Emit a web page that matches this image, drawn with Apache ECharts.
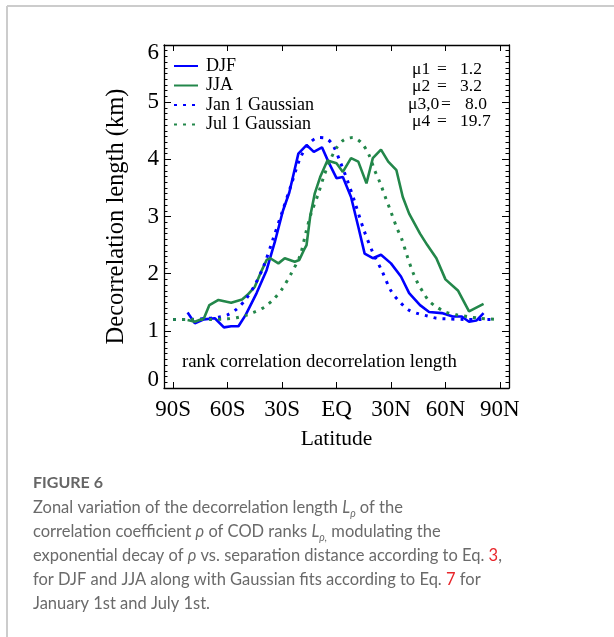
<!DOCTYPE html>
<html>
<head>
<meta charset="utf-8">
<script src="https://cdn.jsdelivr.net/npm/echarts@6/dist/echarts.min.js"></script>
<style>
  html, body { margin: 0; padding: 0; background: #fff; }
  #main { width: 614px; height: 637px; }
</style>
</head>
<body>
<div id="main"></div>
<script>
// values (latitude in degrees, length in km)
const djfLat = [-82, -78, -73, -67, -62, -58, -54, -50, -44, -38.5, -34, -29.5, -26, -21, -16.5, -12.5, -8, -4.5, 0, 3.5, 8, 12, 15.5, 20, 24.5, 30, 35.5, 40, 46, 51, 58, 64, 69, 73, 77, 81];
const djfVal = [1.32, 1.13, 1.20, 1.22, 1.06, 1.08, 1.08, 1.28, 1.66, 2.06, 2.55, 3.10, 3.42, 4.10, 4.25, 4.13, 4.21, 3.96, 3.67, 3.69, 3.34, 2.82, 2.35, 2.27, 2.33, 2.18, 1.95, 1.66, 1.45, 1.33, 1.31, 1.25, 1.25, 1.16, 1.18, 1.31];

const jjaLat = [-82, -78, -73, -70, -65, -58, -52, -49, -45, -42, -38.5, -36.5, -32, -28.5, -23, -20.5, -18, -16.5, -14.5, -12, -9, -5, 0, 3.5, 8, 12, 16.5, 20, 24.5, 28.5, 33, 36.5, 40, 46, 50, 55, 60, 67, 73, 81];
const jjaVal = [1.19, 1.16, 1.22, 1.45, 1.54, 1.49, 1.55, 1.63, 1.77, 2.00, 2.24, 2.27, 2.18, 2.27, 2.21, 2.24, 2.41, 2.50, 3.00, 3.40, 3.69, 3.98, 3.93, 3.78, 4.02, 3.96, 3.58, 4.02, 4.17, 3.96, 3.81, 3.34, 3.05, 2.70, 2.50, 2.27, 1.90, 1.70, 1.34, 1.47];

const janLat = [-90, -80, -70, -65, -60, -55, -50, -45, -40, -35, -30, -25, -20, -15, -10, -6, -2, 2, 6, 10, 15, 20, 25, 30, 35, 40, 45, 50, 55, 60, 70, 80, 88];
const janVal = [1.20, 1.20, 1.22, 1.24, 1.28, 1.38, 1.55, 1.80, 2.14, 2.60, 3.07, 3.55, 4.02, 4.28, 4.38, 4.37, 4.25, 3.96, 3.63, 3.26, 2.77, 2.37, 2.05, 1.70, 1.50, 1.36, 1.30, 1.26, 1.22, 1.21, 1.20, 1.20, 1.20];

const julLat = [-90, -80, -70, -60, -55, -50, -45, -40, -35, -30, -25, -20, -17, -14, -10, -7, -4, 0, 4, 9, 14, 18, 21, 24, 27, 30, 33, 36, 39, 42, 45, 48, 51, 55, 60, 66, 72, 79, 88];
const julVal = [1.20, 1.20, 1.20, 1.21, 1.23, 1.27, 1.33, 1.41, 1.54, 1.73, 2.00, 2.32, 2.70, 3.05, 3.40, 3.70, 3.95, 4.20, 4.34, 4.38, 4.28, 4.07, 3.81, 3.59, 3.33, 3.08, 2.82, 2.60, 2.30, 2.03, 1.82, 1.66, 1.52, 1.42, 1.33, 1.28, 1.25, 1.22, 1.20];

const xTickValues = [-90, -60, -30, 0, 30, 60, 90];
const xTickLabels = ['90S', '60S', '30S', 'EQ', '30N', '60N', '90N'];

const paramNames = ['\u03bc1', '\u03bc2', '\u03bc3,0', '\u03bc4'];
const paramValues = ['1.2', '3.2', '8.0', '19.7'];

const captionTitle = 'FIGURE 6';
const captionLines = [
  'Zonal variation of the decorrelation length {i|L}{sub|\u03c1} of the',
  'correlation coefficient {i|\u03c1} of COD ranks {i|L}{sub|\u03c1,} modulating the',
  'exponential decay of {i|\u03c1} vs. separation distance according to Eq. {r|3},',
  'for DJF and JJA along with Gaussian fits according to Eq. {r|7} for',
  'January 1st and July 1st.'
];

const serif = 'Liberation Serif';
const blue = '#0000ff';
const green = '#23874a';
const capGrey = '#6a6a6a';
const capSize = 16.5;

function pairs(lat, val) {
  return lat.map((x, i) => [x, val[i]]);
}

const chart = echarts.init(document.getElementById('main'));

const graphic = [
  { type: 'line', shape: { x1: 7, y1: 6, x2: 614, y2: 6 }, style: { stroke: '#cccccc', lineWidth: 2 } },
  { type: 'line', shape: { x1: 7, y1: 6, x2: 7, y2: 637 }, style: { stroke: '#cccccc', lineWidth: 2 } },
  {
    type: 'text', x: 182, y: 362,
    style: { text: 'rank correlation decorrelation length', font: '18.8px "Liberation Serif"', fill: '#000', verticalAlign: 'middle' }
  }
];

// mu block, top right of the plot
paramNames.forEach((name, i) => {
  const y = 69 + i * 17.5;
  const wide = name.length > 2;
  graphic.push({ type: 'text', x: wide ? 408 : 412, y: y, style: { text: name, font: '17.5px "Liberation Serif"', fill: '#000', verticalAlign: 'middle' } });
  graphic.push({ type: 'text', x: wide ? 446 : 442, y: y, style: { text: '=', font: '17.5px "Liberation Serif"', fill: '#000', align: 'center', verticalAlign: 'middle' } });
  graphic.push({ type: 'text', x: wide ? 465 : 460, y: y, style: { text: paramValues[i], font: '17.5px "Liberation Serif"', fill: '#000', verticalAlign: 'middle' } });
});

graphic.push({
  type: 'text', x: 33, y: 483,
  style: { text: captionTitle, font: 'bold 16px Lato', fill: '#666', verticalAlign: 'middle' }
});

captionLines.forEach((line, i) => {
  graphic.push({
    type: 'text', x: 33, y: 508 + i * 23.8,
    style: {
      text: line,
      fontFamily: 'Lato', fontSize: capSize, fill: capGrey, verticalAlign: 'middle', lineHeight: 22,
      rich: {
        i: { fontFamily: 'Lato', fontSize: capSize, fontStyle: 'italic', fill: capGrey, lineHeight: 22 },
        sub: { fontFamily: 'Lato', fontSize: 10.5, fontStyle: 'italic', fill: capGrey, lineHeight: 10, verticalAlign: 'bottom' },
        r: { fontFamily: 'Lato', fontSize: capSize, fill: '#e8262b', lineHeight: 22 }
      }
    }
  });
});

const option = {
  backgroundColor: '#fff',
  animation: false,
  grid: { left: 164, top: 45, right: 105, bottom: 249, containLabel: false },
  legend: {
    left: 168, top: 52,
    orient: 'vertical',
    itemWidth: 24, itemHeight: 12, itemGap: 1.5,
    itemStyle: { opacity: 0 },
    textStyle: { fontFamily: serif, fontSize: 18, color: '#000', padding: [0, 0, 0, 3] },
    data: ['DJF', 'JJA', 'Jan 1 Gaussian', 'Jul 1 Gaussian']
  },
  xAxis: [
    {
      type: 'value', min: -95, max: 95,
      name: 'Latitude', nameLocation: 'middle', nameGap: 40,
      nameTextStyle: { fontFamily: serif, fontSize: 21.5, color: '#000' },
      axisLine: { onZero: false, lineStyle: { color: '#000', width: 1.3 } },
      axisTick: { inside: true, length: 6, customValues: xTickValues, lineStyle: { color: '#000' } },
      axisLabel: {
        customValues: xTickValues, margin: 10,
        fontFamily: serif, fontSize: 23, color: '#000',
        formatter: v => xTickLabels[xTickValues.indexOf(v)]
      },
      splitLine: { show: false }
    },
    {
      type: 'value', min: -95, max: 95, position: 'top',
      axisLine: { onZero: false, lineStyle: { color: '#000', width: 1.3 } },
      axisTick: { inside: true, length: 6, customValues: xTickValues, lineStyle: { color: '#000' } },
      axisLabel: { show: false },
      splitLine: { show: false }
    }
  ],
  yAxis: [
    {
      type: 'value', min: 0, max: 6, interval: 1, position: 'left',
      name: 'Decorrelation length (km)', nameLocation: 'middle', nameGap: 35,
      nameTextStyle: { fontFamily: serif, fontSize: 24.5, color: '#000' },
      axisLine: { show: true, onZero: false, lineStyle: { color: '#000', width: 1.3 } },
      axisTick: { show: true, inside: true, length: 7, lineStyle: { color: '#000' } },
      minorTick: { show: true, splitNumber: 10, length: 3.5, lineStyle: { color: '#000' } },
      axisLabel: {
        margin: 5, fontFamily: serif, fontSize: 23, color: '#000', lineHeight: 16,
        verticalAlignMinLabel: 'bottom', verticalAlignMaxLabel: 'top'
      },
      splitLine: { show: false }
    },
    {
      type: 'value', min: 0, max: 6, interval: 1, position: 'right',
      axisLine: { show: true, onZero: false, lineStyle: { color: '#000', width: 1.3 } },
      axisTick: { show: true, inside: true, length: 7, lineStyle: { color: '#000' } },
      minorTick: { show: true, splitNumber: 10, length: 3.5, lineStyle: { color: '#000' } },
      axisLabel: { show: false },
      splitLine: { show: false }
    }
  ],
  series: [
    {
      name: 'DJF', type: 'line', data: pairs(djfLat, djfVal), symbol: 'none',
      lineStyle: { color: blue, width: 2.6 }, itemStyle: { color: blue }
    },
    {
      name: 'JJA', type: 'line', data: pairs(jjaLat, jjaVal), symbol: 'none',
      lineStyle: { color: green, width: 2.6 }, itemStyle: { color: green }
    },
    {
      name: 'Jan 1 Gaussian', type: 'line', data: pairs(janLat, janVal), symbol: 'none', smooth: 0.3,
      lineStyle: { color: blue, width: 3, type: [3, 6] }, itemStyle: { color: blue }
    },
    {
      name: 'Jul 1 Gaussian', type: 'line', data: pairs(julLat, julVal), symbol: 'none', smooth: 0.3,
      lineStyle: { color: green, width: 3, type: [3, 6] }, itemStyle: { color: green }
    }
  ],
  graphic: graphic
};

chart.setOption(option);
</script>
</body>
</html>
